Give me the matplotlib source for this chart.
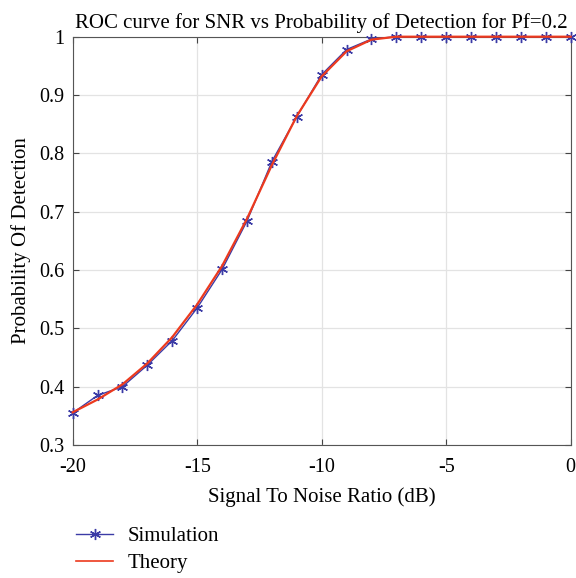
import matplotlib
matplotlib.use("Agg")
import matplotlib.pyplot as plt
from matplotlib.lines import Line2D

plt.rcParams['font.family'] = ['Liberation Serif', 'DejaVu Serif']

snr_db = [-20, -19, -18, -17, -16, -15, -14, -13, -12, -11, -10, -9, -8, -7, -6, -5, -4, -3, -2, -1, 0]
pd_sim = [0.355, 0.385, 0.400, 0.437, 0.479, 0.535, 0.601, 0.684, 0.786, 0.863, 0.935, 0.978, 0.996,
          1.0, 1.0, 1.0, 1.0, 1.0, 1.0, 1.0, 1.0]
pd_theory = [0.356, 0.378, 0.404, 0.440, 0.485, 0.541, 0.607, 0.688, 0.780, 0.864, 0.932, 0.975, 0.995,
             1.0, 1.0, 1.0, 1.0, 1.0, 1.0, 1.0, 1.0]
xticks = [-20, -15, -10, -5, 0]
yticks = [0.3, 0.4, 0.5, 0.6, 0.7, 0.8, 0.9, 1.0]
yticklabels = ['0.3', '0.4', '0.5', '0.6', '0.7', '0.8', '0.9', '1']

sim_color = '#3b3ba6'
th_color = '#ec3a1e'

fig = plt.figure(figsize=(5.76, 5.78), dpi=100)
ax = fig.add_axes([0.1262, 0.2301, 0.8646, 0.7064])

ax.plot(snr_db, pd_sim, color=sim_color, lw=1.0, marker=(6, 2, 0), ms=8, mew=1.0,
        label='Simulation', zorder=3, clip_on=False)
ax.plot(snr_db, pd_theory, color=th_color, lw=1.6, label='Theory', zorder=4, clip_on=False)

ax.set_xlim(-20, 0)
ax.set_ylim(0.3, 1.0)
ax.set_xticks(xticks)
ax.set_xticklabels([str(t) for t in xticks])
ax.set_yticks(yticks)
ax.set_yticklabels(yticklabels)
ax.grid(True, color='#e3e3e3', lw=0.9)
ax.set_axisbelow(True)
ax.tick_params(direction='in', top=True, right=True, length=4, width=0.8,
               color='#444444', labelsize=14.5)
ax.tick_params(axis='x', pad=9)
ax.tick_params(axis='y', pad=6)
for s in ax.spines.values():
    s.set_color('#555555')
    s.set_linewidth(0.8)

ax.set_title('ROC curve for SNR vs Probability of Detection for Pf=0.2', fontsize=15, pad=6)
ax.set_xlabel('Signal To Noise Ratio (dB)', fontsize=15, labelpad=8)
ax.set_ylabel('Probability Of Detection', fontsize=15, labelpad=6)

handles = [Line2D([], [], color=sim_color, lw=1.0, marker=(6, 2, 0), ms=8, mew=1.0),
           Line2D([], [], color=th_color, lw=1.2)]
fig.legend(handles, ['Simulation', 'Theory'], loc='upper left',
           bbox_to_anchor=(0.1, 0.122), frameon=False, fontsize=15,
           handlelength=1.75, handletextpad=0.7, labelspacing=0.38)

fig.savefig('out.png', dpi=100)
